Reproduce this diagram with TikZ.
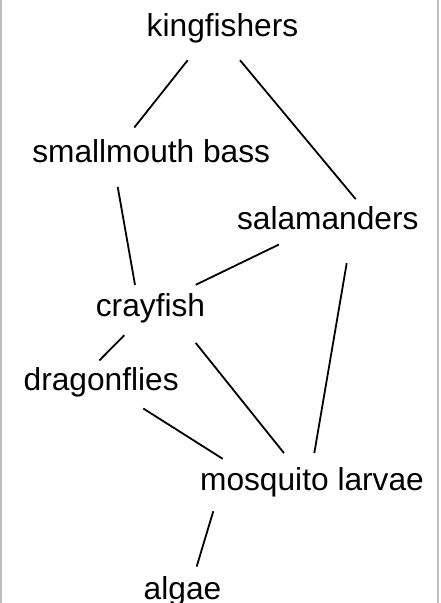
\documentclass[tikz,border=0pt]{standalone}
\usepackage{fontspec}
\setmainfont{Liberation Sans}
\usetikzlibrary{positioning}
\definecolor{edgegray}{HTML}{BDBDBD}
\tikzset{
  species/.style={anchor=base, inner sep=0pt, text height=22pt, text depth=6pt, font=\fontsize{31.7}{36}\selectfont},
  link/.style={line width=1.8pt, draw=black},
  frame/.style={line width=1.5pt, draw=edgegray}
}

\begin{document}
\begin{tikzpicture}[x=1pt, y=-1pt]
  \clip (0,0) rectangle (441,603);
  \useasboundingbox (0,0) rectangle (441,603);
  \draw[frame] (1,0) -- (1,603);
  \draw[frame] (438,0) -- (438,603);

  \node[species] (kf) at (222.5,36) {kingfishers};
  \node[species] (bass) at (151.2,162.3) {smallmouth bass};
  \node[species] (sal) at (327.8,229.5) {salamanders};
  \node[species] (cray) at (150.5,316.7) {crayfish};
  \node[species] (drag) at (101.2,390) {dragonflies};
  \node[species] (mosq) at (312,490) {mosquito larvae};
  \node[species] (alg) at (182.5,599) {algae};

  % who eats whom
  \draw[link] ([shift={(-34.8,18)}]kf.south) -- ([shift={(-16.9,-12.6)}]bass.north);
  \draw[link] ([shift={(17.5,18)}]kf.south) -- ([shift={(27.9,-8.2)}]sal.north);
  \draw[link] ([shift={(-33.5,18.4)}]bass.south) -- ([shift={(-15.5,-9.7)}]cray.north);
  \draw[link] ([shift={(-48.8,8.8)}]sal.south) -- ([shift={(45.2,-9.7)}]cray.north);
  \draw[link] ([shift={(18.9,27.5)}]sal.south) -- ([shift={(2.3,-14.7)}]mosq.north);
  \draw[link] ([shift={(-26.2,12.3)}]cray.south) -- ([shift={(-1.9,-7.3)}]drag.north);
  \draw[link] ([shift={(45.2,20)}]cray.south) -- ([shift={(-28,-14.7)}]mosq.north);
  \draw[link] ([shift={(42.1,12.3)}]drag.south) -- ([shift={(-89.3,-9)}]mosq.north);
  \draw[link] ([shift={(-98.7,15)}]mosq.south) -- ([shift={(14.2,-10.3)}]alg.north);
\end{tikzpicture}
\end{document}
